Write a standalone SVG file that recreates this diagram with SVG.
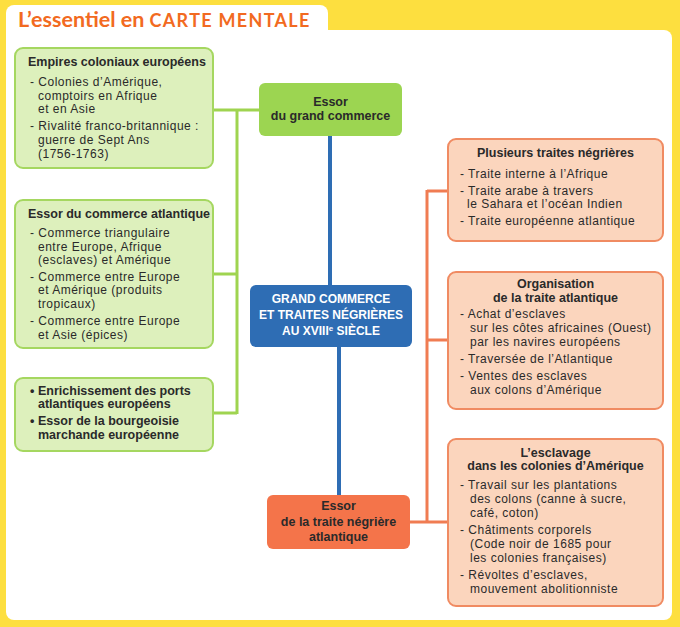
<svg xmlns="http://www.w3.org/2000/svg" width="680" height="627" viewBox="0 0 680 627">
<style>
.t{font-family:"Liberation Sans",Arial,sans-serif;font-size:12px;letter-spacing:0.5px;fill:#2a2a2a}
.b{font-weight:bold;font-size:12.5px;letter-spacing:0}
.c{text-anchor:middle}
.w{fill:#ffffff;font-size:12px}
.gbox{fill:#DDF0BC;stroke:#A5D760;stroke-width:2}
.obox{fill:#FBD5BD;stroke:#F08B62;stroke-width:2}
.gl{stroke:#9FD450;stroke-width:3;fill:none}
.bl{stroke:#2E6DB4;stroke-width:4;fill:none}
.ol{stroke:#F07C52;stroke-width:3;fill:none}
</style>
<rect x="0" y="0" width="680" height="627" fill="#FDDF3F"/>
<rect x="6" y="5" width="322" height="60" rx="8" fill="#ffffff"/>
<rect x="6" y="30" width="666" height="590" rx="8" fill="#ffffff"/>
<rect x="6" y="30" width="20" height="20" fill="#ffffff"/>
<text x="18" y="27" font-family="Lato,'Open Sans',sans-serif" font-size="21.5" font-weight="bold" fill="#F26A21">L’essentiel en <tspan letter-spacing="1.3" font-size="18">CARTE MENTALE</tspan></text>

<g id="connectors">
<path class="gl" d="M213 110 H260 M237 110 V414 M213 274 H237 M213 413 H237"/>
<path class="bl" d="M330 136 V286 M339 347 V496"/>
<path class="ol" d="M410 522 H448 M427 190 V522 M427 191 H448 M427 340 H448"/>
</g>

<g id="empires">
<rect class="gbox" x="15" y="48" width="198" height="120" rx="8"/>
<text class="t b" x="28" y="66">Empires coloniaux européens</text>
<text class="t" x="30" y="86">- Colonies d’Amérique,</text>
<text class="t" x="38" y="100">comptoirs en Afrique</text>
<text class="t" x="38" y="113">et en Asie</text>
<text class="t" x="30" y="130">- Rivalité franco-britannique :</text>
<text class="t" x="38" y="144">guerre de Sept Ans</text>
<text class="t" x="38" y="158">(1756-1763)</text>
</g>

<g id="commerce-atlantique">
<rect class="gbox" x="15" y="200" width="198" height="148" rx="8"/>
<text class="t b" x="28" y="218">Essor du commerce atlantique</text>
<text class="t" x="30" y="237">- Commerce triangulaire</text>
<text class="t" x="38" y="251">entre Europe, Afrique</text>
<text class="t" x="38" y="264">(esclaves) et Amérique</text>
<text class="t" x="30" y="281">- Commerce entre Europe</text>
<text class="t" x="38" y="294">et Amérique (produits</text>
<text class="t" x="38" y="308">tropicaux)</text>
<text class="t" x="30" y="325">- Commerce entre Europe</text>
<text class="t" x="38" y="339">et Asie (épices)</text>
</g>

<g id="enrichissement">
<rect class="gbox" x="15" y="378" width="198" height="73" rx="8"/>
<text class="t b" x="30" y="395">•</text>
<text class="t b" x="38" y="395">Enrichissement des ports</text>
<text class="t b" x="38" y="408">atlantiques européens</text>
<text class="t b" x="30" y="425">•</text>
<text class="t b" x="38" y="425">Essor de la bourgeoisie</text>
<text class="t b" x="38" y="439">marchande européenne</text>
</g>

<g id="essor-grand-commerce">
<rect x="259" y="83" width="143" height="53" rx="6" fill="#9CD551"/>
<text class="t b c" x="330.5" y="106">Essor</text>
<text class="t b c" x="330.5" y="120">du grand commerce</text>
</g>

<g id="central">
<rect x="250" y="285" width="162" height="62" rx="6" fill="#2E6DB4"/>
<text class="t b c w" x="331" y="303">GRAND COMMERCE</text>
<text class="t b c w" x="331" y="319">ET TRAITES NÉGRIÈRES</text>
<text class="t b c w" x="331" y="335">AU XVIII<tspan font-size="8" dy="-4">e</tspan><tspan dy="4"> SIÈCLE</tspan></text>
</g>

<g id="essor-traite">
<rect x="267" y="495" width="143" height="54" rx="6" fill="#F4744A"/>
<text class="t b c" x="338.5" y="510">Essor</text>
<text class="t b c" x="338.5" y="526">de la traite négrière</text>
<text class="t b c" x="338.5" y="541">atlantique</text>
</g>

<g id="plusieurs-traites">
<rect class="obox" x="448" y="139" width="215" height="102" rx="8"/>
<text class="t b c" x="555.5" y="157">Plusieurs traites négrières</text>
<text class="t" x="460" y="178">- Traite interne à l’Afrique</text>
<text class="t" x="460" y="195">- Traite arabe à travers</text>
<text class="t" x="467" y="208">le Sahara et l’océan Indien</text>
<text class="t" x="460" y="225">- Traite européenne atlantique</text>
</g>

<g id="organisation">
<rect class="obox" x="448" y="272" width="215" height="137" rx="8"/>
<text class="t b c" x="555.5" y="288">Organisation</text>
<text class="t b c" x="555.5" y="302">de la traite atlantique</text>
<text class="t" x="460" y="318">- Achat d’esclaves</text>
<text class="t" x="470" y="332">sur les côtes africaines (Ouest)</text>
<text class="t" x="470" y="346">par les navires européens</text>
<text class="t" x="460" y="363">- Traversée de l’Atlantique</text>
<text class="t" x="460" y="380">- Ventes des esclaves</text>
<text class="t" x="470" y="394">aux colons d’Amérique</text>
</g>

<g id="esclavage">
<rect class="obox" x="448" y="439" width="215" height="167" rx="8"/>
<text class="t b c" x="555.5" y="457">L’esclavage</text>
<text class="t b c" x="555.5" y="470">dans les colonies d’Amérique</text>
<text class="t" x="460" y="489">- Travail sur les plantations</text>
<text class="t" x="470" y="503">des colons (canne à sucre,</text>
<text class="t" x="470" y="517">café, coton)</text>
<text class="t" x="460" y="534">- Châtiments corporels</text>
<text class="t" x="470" y="548">(Code noir de 1685 pour</text>
<text class="t" x="470" y="562">les colonies françaises)</text>
<text class="t" x="460" y="579">- Révoltes d’esclaves,</text>
<text class="t" x="470" y="593">mouvement abolitionniste</text>
</g>
</svg>
